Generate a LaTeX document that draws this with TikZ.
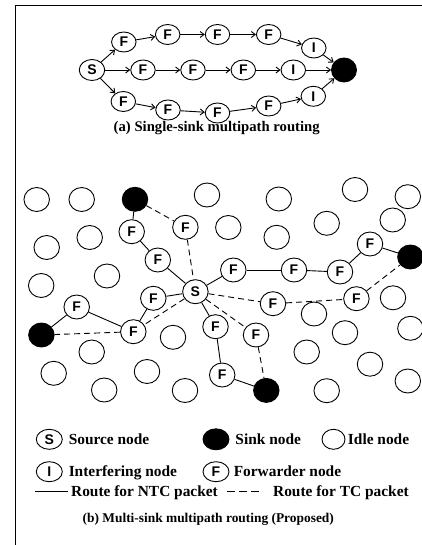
\documentclass[tikz,border=0pt]{standalone}
\usepackage{fontspec}
\setmainfont{Liberation Serif}
\newfontfamily\nodefont{Liberation Sans}
\usetikzlibrary{shapes.geometric,arrows.meta}
\begin{document}
\begin{tikzpicture}[x=1pt,y=-1pt, line width=0.9pt,
 nd/.style={ellipse, draw, fill=white, inner sep=0pt, minimum width=25.5pt, minimum height=24pt, font=\nodefont\bfseries\fontsize{14}{14}\selectfont},
 tn/.style={nd, minimum width=24.5pt, minimum height=20pt},
 sinknd/.style={nd, fill=black},
 arr/.style={-{Straight Barb[length=4pt,width=6pt]}},
 tc/.style={dash pattern=on 6pt off 4pt},
 lbl/.style={font=\bfseries\fontsize{15.4}{15.4}\selectfont, inner sep=0pt},
 capa/.style={font=\bfseries\fontsize{14.7}{14.7}\selectfont, inner sep=0pt},
 capb/.style={font=\bfseries\fontsize{13.4}{13.4}\selectfont, inner sep=0pt}
]
\useasboundingbox (0,0) rectangle (422,545);
\coordinate (fr1) at (422,5.7);
\coordinate (fr2) at (15,5.7);
\coordinate (fr3) at (15,545);
\draw (fr1) -- (fr2) -- (fr3);

% ---- (a) single-sink multipath
\node[tn, minimum width=25.5pt, minimum height=21pt] (S0) at (92,70) {S};
\node[tn] (a1) at (123.8,42) {F};
\node[tn] (a2) at (167.7,34.5) {F};
\node[tn] (a3) at (217.5,34.5) {F};
\node[tn] (a4) at (268.7,34.5) {F};
\node[tn] (aI) at (313.8,48) {I};
\node[tn] (b1) at (143,70) {F};
\node[tn] (b2) at (193,70) {F};
\node[tn] (b3) at (243.3,70) {F};
\node[tn] (bI) at (293.3,70) {I};
\node[sinknd, minimum width=25pt, minimum height=24pt] (K0) at (344,70) {};
\node[tn] (c1) at (123.3,101.5) {F};
\node[tn] (c2) at (168,110) {F};
\node[tn] (c3) at (217.5,113) {F};
\node[tn] (c4) at (268.7,106) {F};
\node[tn] (cI) at (313.3,96.3) {I};
\foreach \u/\v in {S0/a1,a1/a2,a2/a3,a3/a4,a4/aI,aI/K0,
                   S0/b1,b1/b2,b2/b3,b3/bI,bI/K0,
                   S0/c1,c1/c2,c2/c3,c3/c4,c4/cI,cI/K0}
  \draw[arr] (\u) -- (\v);
\node[capa, anchor=base] (capA) at (216.7,132) {(a) Single-sink multipath routing};

% ---- (b) multi-sink multipath
% idle nodes
\foreach \x/\y [count=\i] in {36.7/199.5, 81.7/199.5, 207/195, 278.8/199, 355/189.5, 407.8/196.7,
  228.3/227.5, 276.7/237.3, 326.7/223.3, 392.7/220, 46.7/247.5, 89.7/237.5,
  41.2/285.5, 107/276, 393/297.8, 314/314,
  173/337.3, 345/332.7, 410.4/328.3, 91.7/352, 306.7/352,
  53.7/373.3, 147/371.5, 370/364.2, 407.8/381, 104.2/390, 185/390.5, 326.7/390.7}
  \node[nd] (idle\i) at (\x,\y) {};
% sinks
\node[sinknd] (kTL) at (135,199.3) {};
\node[sinknd] (kR) at (410.4,257) {};
\node[sinknd] (kL) at (41.4,335) {};
\node[sinknd] (kB) at (266.3,390.4) {};
% source
\node[nd] (S) at (195.4,291.7) {S};
% forwarders
\node[nd] (f1) at (131.7,231.7) {F};
\node[nd] (f2) at (185.4,227.3) {F};
\node[nd] (f3) at (157.8,260) {F};
\node[nd] (f4) at (233.3,270) {F};
\node[nd] (f5) at (294,270) {F};
\node[nd] (f6) at (340,272) {F};
\node[nd] (f7) at (370,244) {F};
\node[nd] (f8) at (153.3,298.3) {F};
\node[nd] (f9) at (76.7,307) {F};
\node[nd] (f10) at (273,303.7) {F};
\node[nd] (f11) at (356.4,298.7) {F};
\node[nd] (f12) at (133.3,331.7) {F};
\node[nd] (f13) at (215.5,326.7) {F};
\node[nd] (f14) at (256,335) {F};
\node[nd] (f15) at (222.2,375) {F};
% NTC routes (solid)
\foreach \u/\v in {kTL/f1, f1/f3, f3/S, S/f8, f8/f12, f12/f9, f9/kL,
                   S/f4, f4/f5, f5/f6, f6/f7, f7/kR, S/f13, f13/f15, f15/kB}
  \draw (\u) -- (\v);
% TC routes (dashed)
\foreach \u/\v in {kTL/f2, f2/S, S/f10, f10/f11, f11/kR, S/f14, f14/kB, S/f12, f12/kL}
  \draw[tc] (\u) -- (\v);

% ---- legend
\node[nd, minimum width=26pt, minimum height=20pt] (lgS) at (49.3,439.3) {S};
\node[lbl, anchor=base west] (lgSt) at (68.3,444) {Source node};
\node[sinknd, minimum width=26pt, minimum height=21pt] (lgK) at (216,439.3) {};
\node[lbl, anchor=base west] (lgKt) at (235,444) {Sink node};
\node[nd, minimum width=23pt, minimum height=20pt] (lgId) at (333.5,439.3) {};
\node[lbl, anchor=base west] (lgIdt) at (347.5,444) {Idle node};
\node[nd, minimum width=26pt, minimum height=20pt] (lgI) at (49.3,471.7) {I};
\node[lbl, anchor=base west] (lgIt) at (68.3,476) {Interfering node};
\node[nd, minimum width=26pt, minimum height=20pt] (lgF) at (216,471.7) {F};
\node[lbl, anchor=base west] (lgFt) at (233.3,476) {Forwarder node};
\coordinate (ln1) at (35,491.7);
\coordinate (ln2) at (68.3,491.7);
\draw (ln1) -- (ln2);
\node[lbl, anchor=base west] (lgNt) at (70.7,496) {Route for NTC packet};
\coordinate (ld1) at (226.7,491.7);
\coordinate (ld2) at (263.3,491.7);
\draw[dash pattern=on 8pt off 4.3pt] (ld1) -- (ld2);
\node[lbl, anchor=base west] (lgTt) at (272.7,496) {Route for TC packet};
\node[capb, anchor=base] (capB) at (208.3,522.7) {(b) Multi-sink multipath routing (Proposed)};
\end{tikzpicture}
\end{document}
